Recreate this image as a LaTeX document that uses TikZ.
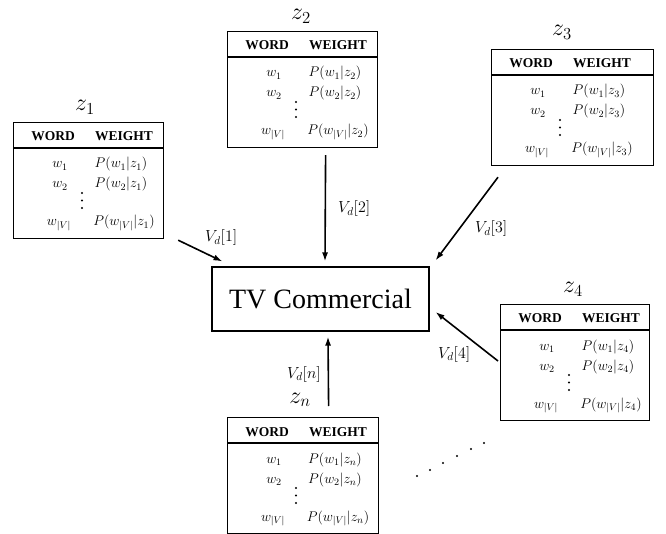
\RequirePackage{fix-cm}
\documentclass[tikz,border=0pt]{standalone}
\usepackage{fontspec}
\setmainfont{Liberation Serif}
\usetikzlibrary{arrows.meta,calc}

\tikzset{
  tbl/.style={draw, line width=1.2pt, minimum height=116pt, inner sep=0pt, anchor=north west},
  sepline/.style={line width=1.1pt},
  hdr/.style={font=\fontsize{13.5}{15}\selectfont\bfseries, inner sep=0pt, anchor=base},
  ent/.style={font=\fontsize{14}{16}\selectfont, inner sep=0pt, anchor=base},
  ttl/.style={font=\fontsize{24}{28}\selectfont, inner sep=0pt, anchor=base},
  lbl/.style={font=\fontsize{16}{18}\selectfont, inner sep=0pt, anchor=base west},
  arr/.style={-{Latex[length=9pt,width=6pt]}, line width=1.6pt},
  dotc/.style={fill, circle, inner sep=0pt, minimum size=2.2pt},
  tvbox/.style={draw, line width=1.1pt, minimum width=217pt, minimum height=64pt, inner sep=0pt,
    font=\fontsize{28}{32}\selectfont}
}

% name, left, top, width, subscript, title x, title baseline y
\newcommand\wtable[7]{%
  \node[tbl, minimum width=#4pt] (#1) at (#2,#3) {};
  \node[ttl] (#1-ttl) at (#6,#7) {$z_{#5}$};
  \draw[sepline] ($(#1.north west)+(0,26)$) -- ($(#1.north east)+(0,26)$);
  \node[hdr] (#1-hw) at ({#2+40},{#3+19}) {WORD};
  \node[hdr] (#1-hg) at ({#2+111},{#3+19}) {WEIGHT};
  \node[ent] (#1-a1) at ({#2+47},{#3+46}) {$w_1$};
  \node[ent] (#1-b1) at ({#2+108},{#3+46}) {$P(w_1|z_{#5})$};
  \node[ent] (#1-a2) at ({#2+47},{#3+66}) {$w_2$};
  \node[ent] (#1-b2) at ({#2+108},{#3+66}) {$P(w_2|z_{#5})$};
  \node[ent] (#1-a3) at ({#2+46},{#3+104}) {$w_{|V|}$};
  \node[ent] (#1-b3) at ({#2+111},{#3+104}) {$P(w_{|V|}|z_{#5})$};
  \node[dotc] (#1-d1) at ({#2+69},{#3+71}) {};
  \node[dotc] (#1-d2) at ({#2+69},{#3+78.5}) {};
  \node[dotc] (#1-d3) at ({#2+69},{#3+86}) {};
}

\begin{document}
\begin{tikzpicture}[x=1pt, y=-1pt]
  \useasboundingbox (0,0) rectangle (666,534);

  \node[tvbox] (tv) at (320.5,299) {TV Commercial};

  \wtable{t1}{13}{122}{150}{1}{85}{111}
  \wtable{t2}{227}{31}{150}{2}{301}{20}
  \wtable{t3}{491}{49}{162}{3}{562}{36}
  \wtable{t4}{500}{304}{149}{4}{573}{293}
  \wtable{tn}{227}{417}{151}{n}{300}{403}

  \draw[arr] ($(t1.south east)+(14,1)$) -- ($(tv.north west)+(11,-5)$);
  \draw[arr] ($(t2.south)+(23,7)$) -- ($(tv.north)+(4.5,-5)$);
  \draw[arr] ($(t3.south west)+(7,11)$) -- ($(tv.north east)+(6,-6)$);
  \draw[arr] ($(t4.north west)+(-2,57)$) -- ($(tv.east)+(6,13)$);
  \draw[arr] ($(tn.north)+(25.5,-11)$) -- ($(tv.south)+(7.5,5)$);

  \node[lbl] (l1) at (205,242) {$V_d[1]$};
  \node[lbl] (l2) at (338,213) {$V_d[2]$};
  \node[lbl] (l3) at (475,233) {$V_d[3]$};
  \node[lbl] (l4) at (438,358) {$V_d[4]$};
  \node[lbl] (ln) at (287,378) {$V_d[n]$};

  \node[dotc] (e1) at (417,476) {};
  \node[dotc] (e2) at (430,470) {};
  \node[dotc] (e3) at (443,463) {};
  \node[dotc] (e4) at (457,456) {};
  \node[dotc] (e5) at (471,449) {};
  \node[dotc] (e6) at (484,443) {};
\end{tikzpicture}
\end{document}
